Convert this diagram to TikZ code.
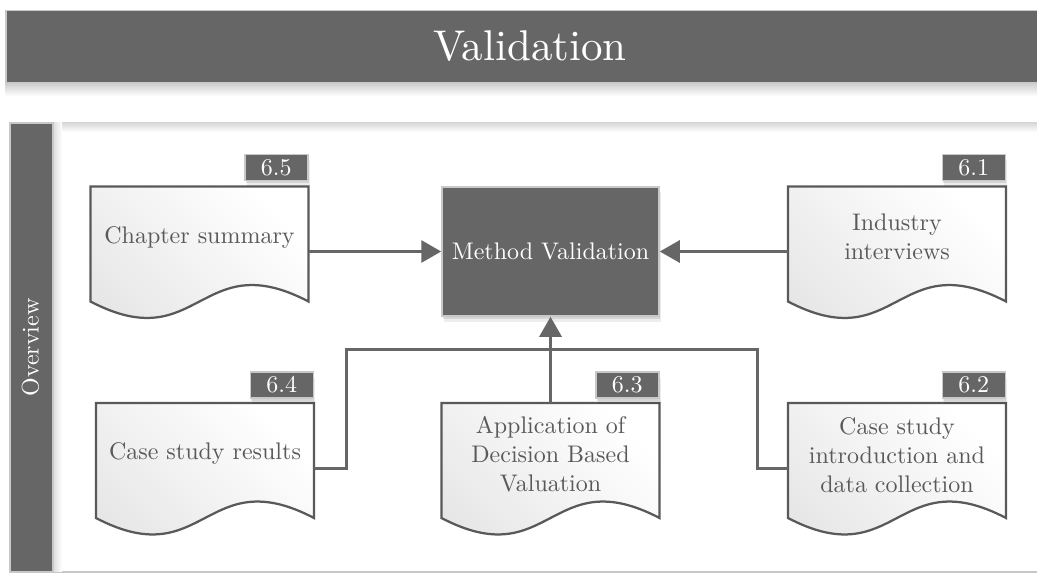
\documentclass[tikz,border=0pt]{standalone}
\usepackage{fontspec}
\newfontfamily\titlefont{lmroman10-regular.otf}
\usetikzlibrary{arrows.meta,calc,shadows}
\definecolor{dg}{RGB}{102,102,102}
\definecolor{lg}{RGB}{200,200,200}
\definecolor{tg}{RGB}{89,89,89}
\definecolor{docg}{RGB}{230,230,230}
\newcommand{\bodyfont}{\titlefont\fontsize{9.6}{11.6}\selectfont}
\newcommand{\docoutline}[1]{%
  \path[docline] (#1.north west) -- (#1.north east) -- (#1.south east)
    .. controls ($(#1.south)+(0,22.8pt)$) and ($(#1.south)+(0,-22.8pt)$) .. (#1.south west) -- cycle;}
\tikzset{
  softshadow/.style={
    general shadow={fill=black, opacity=0.07, shadow xshift=0.8pt, shadow yshift=-2.2pt},
    general shadow={fill=black, opacity=0.10, shadow xshift=0.4pt, shadow yshift=-1.1pt}},
  darkbox/.style={fill=dg, draw=lg, line width=0.6pt},
  docbody/.style={rectangle, minimum width=86.8pt, minimum height=45.6pt, inner sep=0pt},
  docline/.style={draw=tg, line width=0.9pt, top color=docg, bottom color=white, shading angle=135},
  doctext/.style={text=tg, align=center, font=\bodyfont, inner sep=0pt},
  tagbox/.style={darkbox, softshadow, text=white, minimum width=25.2pt, minimum height=10.4pt,
    inner sep=0pt, font=\bodyfont, anchor=south east},
  conn/.style={draw=dg, line width=1.2pt},
  arr/.style={conn, -{Triangle[length=8pt,width=8.8pt]}},
}
\begin{document}
\begin{tikzpicture}[x=0.4pt, y=-0.4pt]
\useasboundingbox (0,0) rectangle (1037,572);
% banner
\shade[top color=lg, bottom color=white] (5,82) rectangle (1060,96);
\node[darkbox, minimum width=420pt, minimum height=28.8pt, inner sep=0pt, anchor=north west] (banner) at (5,10) {};
\node[text=white, font=\titlefont\fontsize{17.2}{20}\selectfont] (title) at (530,46) {Validation};
% panel
\node[draw=lg, line width=0.8pt, minimum width=420pt, minimum height=179.6pt, inner sep=0pt, anchor=north west] (panel) at (9,122) {};
\shade[top color=lg!70, bottom color=white] (52,123) rectangle (1060,132);
\shade[left color=lg!70, right color=white] (52,123) rectangle (62,571);
\node[darkbox, minimum width=17.2pt, minimum height=179.2pt, inner sep=0pt, anchor=north west] (side) at (9,122.5) {};
\node[rotate=90, text=white, font=\bodyfont] (ov) at (30.5,347.5) {Overview};
% central box
\node[darkbox, softshadow, minimum width=86.8pt, minimum height=51.6pt, inner sep=0pt, text=white, font=\bodyfont] (mv) at (550.5,251.5) {Method Validation};
% documents
\node[docbody] (d5) at (199.5,244) {};
\node[docbody] (d1) at (897,244) {};
\node[docbody] (d4) at (205,460.5) {};
\node[docbody] (d3) at (550.5,460.5) {};
\node[docbody] (d2) at (897,460.5) {};
\docoutline{d5}
\docoutline{d1}
\docoutline{d4}
\docoutline{d3}
\docoutline{d2}
\node[doctext] (d5t) at ([yshift=2.8pt]d5.center) {Chapter summary};
\node[doctext] (d1t) at ([yshift=2.8pt]d1.center) {Industry\\interviews};
\node[doctext] (d4t) at ([yshift=2.8pt]d4.center) {Case study results};
\node[doctext] (d3t) at ([yshift=2.6pt]d3.center) {Application of\\Decision Based\\Valuation};
\node[doctext] (d2t) at ([yshift=2.2pt]d2.center) {Case study\\introduction and\\data collection};
% tags
\node[tagbox] (t5) at ([yshift=2pt]d5.north east) {6.5};
\node[tagbox] (t1) at ([yshift=2pt]d1.north east) {6.1};
\node[tagbox] (t4) at ([yshift=1.7pt]d4.north east) {6.4};
\node[tagbox] (t3) at ([yshift=1.7pt]d3.north east) {6.3};
\node[tagbox] (t2) at ([yshift=1.7pt]d2.north east) {6.2};
% connectors
\coordinate (j4) at (346,349);
\coordinate (j2) at (757,349);
\draw[arr] (mv.west -| d5.east) -- (mv.west);
\draw[arr] (mv.east -| d1.west) -- (mv.east);
\draw[conn] ([yshift=-3pt]d4.east) -| (j4) -- (j2) |- ([yshift=-3pt]d2.west);
\draw[arr] (d3.north) -- (mv.south);
\end{tikzpicture}
\end{document}
